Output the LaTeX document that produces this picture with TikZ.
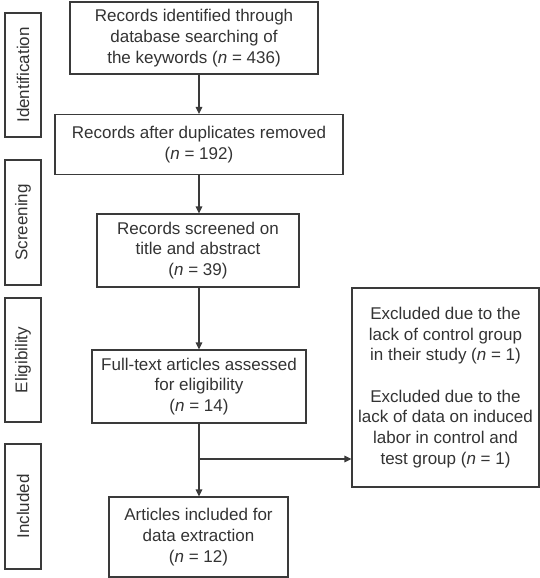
\documentclass[tikz,border=0pt]{standalone}
\usepackage{fontspec}
\setmainfont{Liberation Sans}
\usetikzlibrary{arrows.meta}
\definecolor{ln}{HTML}{3A3A3A}
\definecolor{tx}{HTML}{333333}
\begin{document}
\begin{tikzpicture}[x=1pt,y=-1pt,
 box/.style={draw=ln, line width=1.1pt, text=tx, align=center, inner sep=0pt, font=\fontsize{17}{20.7}\selectfont},
 side/.style={box, rotate=90, minimum height=36pt},
 arr/.style={draw=ln, line width=1.1pt, -{Triangle[length=7pt,width=6.5pt]}},
 ]
\useasboundingbox (0,0) rectangle (540,578);
\node[side, minimum width=124pt] (s1) at (23,75) {Identification};
\node[side, minimum width=125pt] (s2) at (23,222.5) {Screening};
\node[side, minimum width=124pt] (s3) at (23,360) {Eligibility};
\node[side, minimum width=125pt] (s4) at (23,506.5) {Included};

\node[box, minimum width=248pt, minimum height=72pt] (b1) at (194,38) {Records identified through\\database searching of\\the keywords (\textit{n} = 436)};
\node[box, minimum width=288pt, minimum height=60pt] (b2) at (199,144.5) {Records after duplicates removed\\(\textit{n} = 192)};
\node[box, minimum width=202pt, minimum height=73pt] (b3) at (198,250.5) {Records screened on\\title and abstract\\(\textit{n} = 39)};
\node[box, minimum width=214pt, minimum height=73pt] (b4) at (199,386.5) {Full-text articles assessed\\for eligibility\\(\textit{n} = 14)};
\node[box, minimum width=179pt, minimum height=80pt] (b5) at (198.5,537) {Articles included for\\data extraction\\(\textit{n} = 12)};
\node[box, minimum width=187pt, minimum height=199pt] (ex) at (445.5,387.5) {Excluded due to the\\lack of control group\\in their study (\textit{n} = 1)\\[20.7pt]Excluded due to the\\lack of data on induced\\labor in control and\\test group (\textit{n} = 1)};

\coordinate (br) at (199,459);
\draw[arr] (b1.south -| b2.north) -- (b2.north);
\draw[arr] (b2.south) -- (b2.south |- b3.north);
\draw[arr] (b2.south |- b3.south) -- (b2.south |- b4.north);
\draw[arr] (b2.south |- b4.south) -- (b2.south |- b5.north);
\draw[arr] (br) -- (ex.west |- br);
\end{tikzpicture}
\end{document}
